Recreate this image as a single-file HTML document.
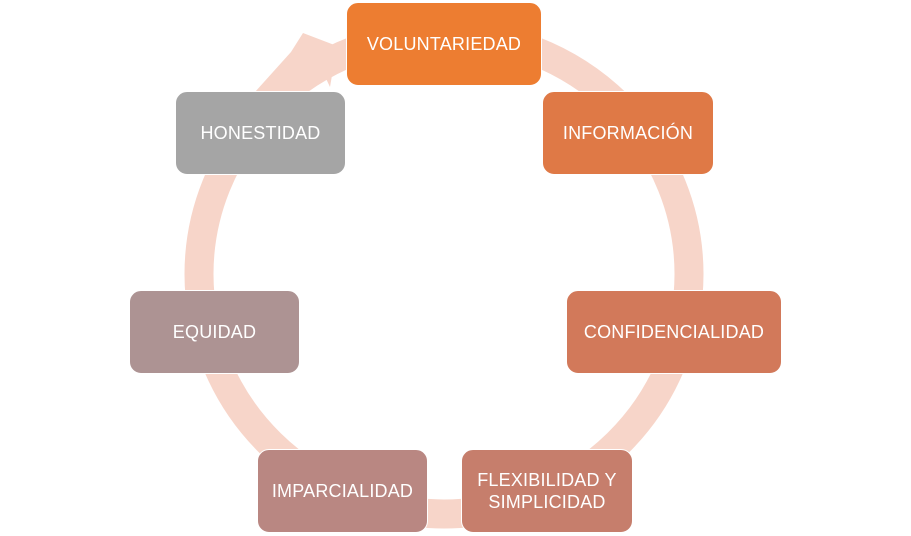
<!DOCTYPE html>
<html><head><meta charset="utf-8"><style>
html,body{margin:0;padding:0;background:#fff;width:911px;height:536px;overflow:hidden;position:relative;font-family:"Liberation Sans",sans-serif}
.b{position:absolute;border-radius:12px;color:#fff;font-size:18px;display:flex;align-items:center;justify-content:center;text-align:center;line-height:22px;box-sizing:border-box;border:1.5px solid #fff;letter-spacing:0.2px}
svg{position:absolute;left:0;top:0}
</style></head><body>
<svg width="911" height="536">
<ellipse cx="444" cy="274" rx="245" ry="240" fill="none" stroke="#F7D5C9" stroke-width="29"/>
<polygon points="303,33 337,46 330,87 321,68 300,92 255,92 291,52" fill="#F7D5C9"/>
</svg>
<div class="b" style="left:346px;top:2px;width:196px;height:84px;background:#ED7D31">VOLUNTARIEDAD</div>
<div class="b" style="left:542px;top:91px;width:172px;height:84px;background:#DF7946">INFORMACIÓN</div>
<div class="b" style="left:566px;top:290px;width:216px;height:84px;background:#D2795A">CONFIDENCIALIDAD</div>
<div class="b" style="left:461px;top:449px;width:172px;height:84px;background:#C67E6C">FLEXIBILIDAD Y<br>SIMPLICIDAD</div>
<div class="b" style="left:257px;top:449px;width:171px;height:84px;background:#B98782">IMPARCIALIDAD</div>
<div class="b" style="left:129px;top:290px;width:171px;height:84px;background:#AD9393">EQUIDAD</div>
<div class="b" style="left:175px;top:91px;width:171px;height:84px;background:#A5A5A5">HONESTIDAD</div>
</body></html>
